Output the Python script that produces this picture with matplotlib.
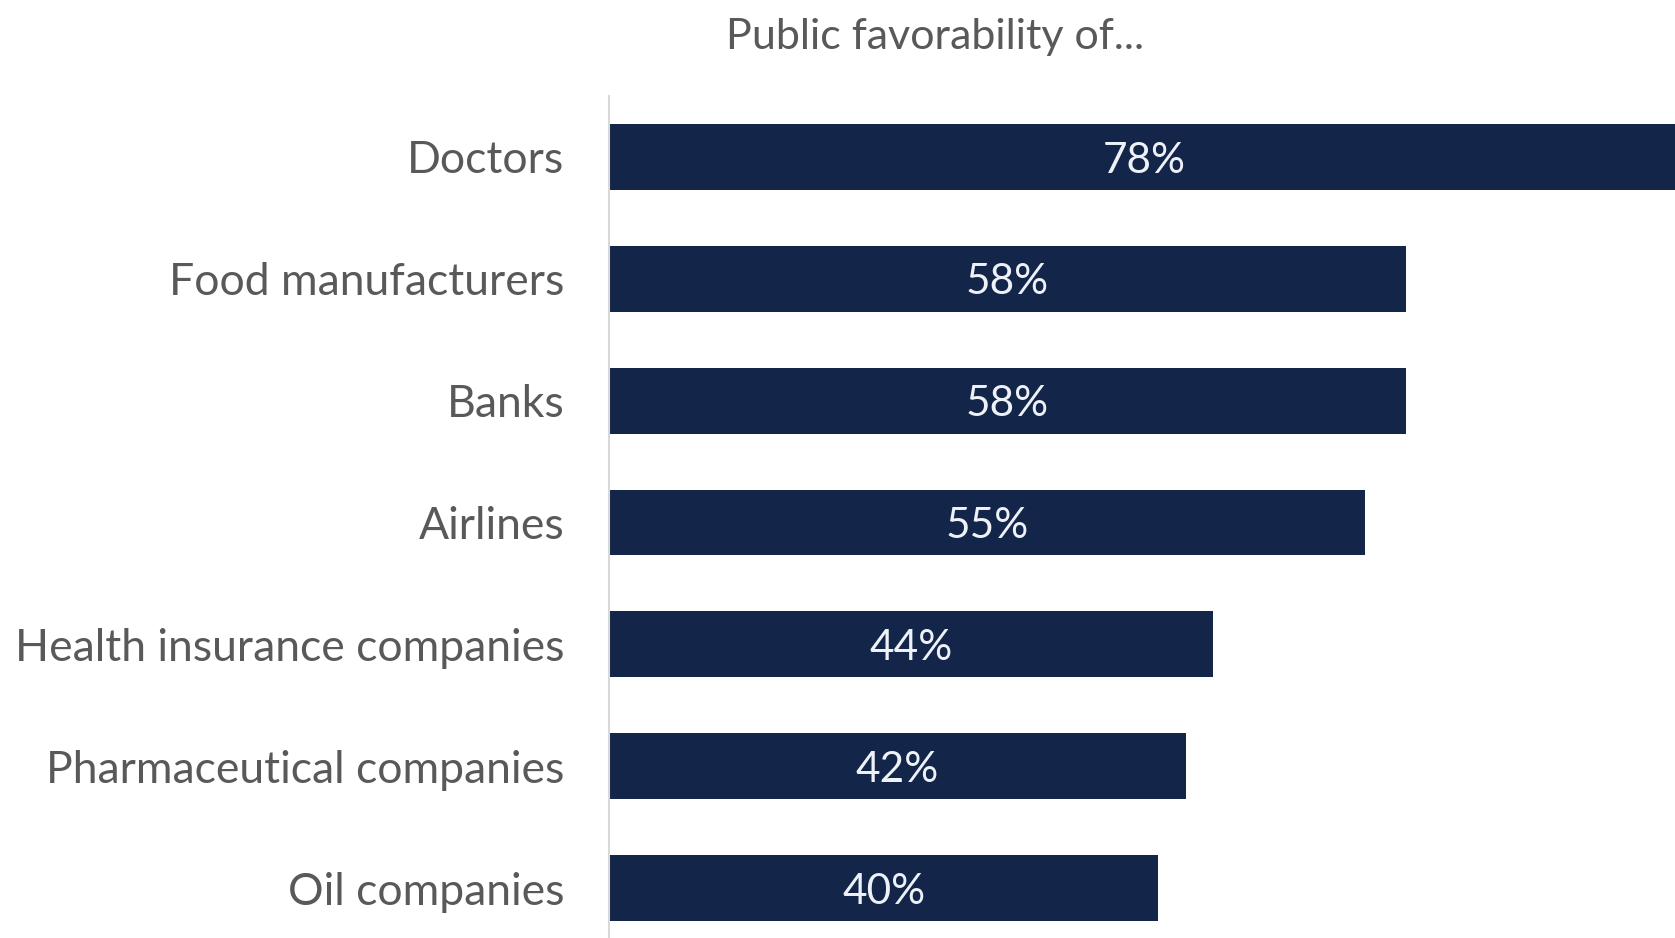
import matplotlib
matplotlib.use("Agg")
import matplotlib.pyplot as plt

# Share of the public with a favorable view of each group
categories = [
    "Doctors",
    "Food manufacturers",
    "Banks",
    "Airlines",
    "Health insurance companies",
    "Pharmaceutical companies",
    "Oil companies",
]
favorable = [78, 58, 58, 55, 44, 42, 40]

NAVY = "#132649"
GREY = "#595959"

plt.rcParams["font.family"] = ["Lato", "DejaVu Sans"]

fig = plt.figure(figsize=(16.75, 9.38), dpi=100)
ax = fig.add_axes([609 / 1675, 0.0, 1 - 609 / 1675, 1 - 96 / 938])

ypos = list(range(len(categories)))
ax.barh(ypos, favorable, height=0.54, color=NAVY)

for y, v in zip(ypos, favorable):
    ax.text(v / 2, y + 0.03, f"{v}%", ha="center", va="center",
            color="#eef2f8", fontsize=30.5)

ax.set_xlim(0, 77.6)
ax.set_ylim(6.41, -0.5)
ax.set_yticks(ypos)
ax.set_yticklabels(categories, fontsize=32, color=GREY)
ax.tick_params(axis="y", length=0, pad=32)
ax.set_xticks([])

for side in ["top", "right", "bottom"]:
    ax.spines[side].set_visible(False)
ax.spines["left"].set_color("#d9d9d9")
ax.spines["left"].set_linewidth(1.5)

fig.text(935 / 1675, 1 - 37 / 938, "Public favorability of...",
         ha="center", va="center", fontsize=31, color=GREY)

fig.savefig("out.png", dpi=100, facecolor="white")
